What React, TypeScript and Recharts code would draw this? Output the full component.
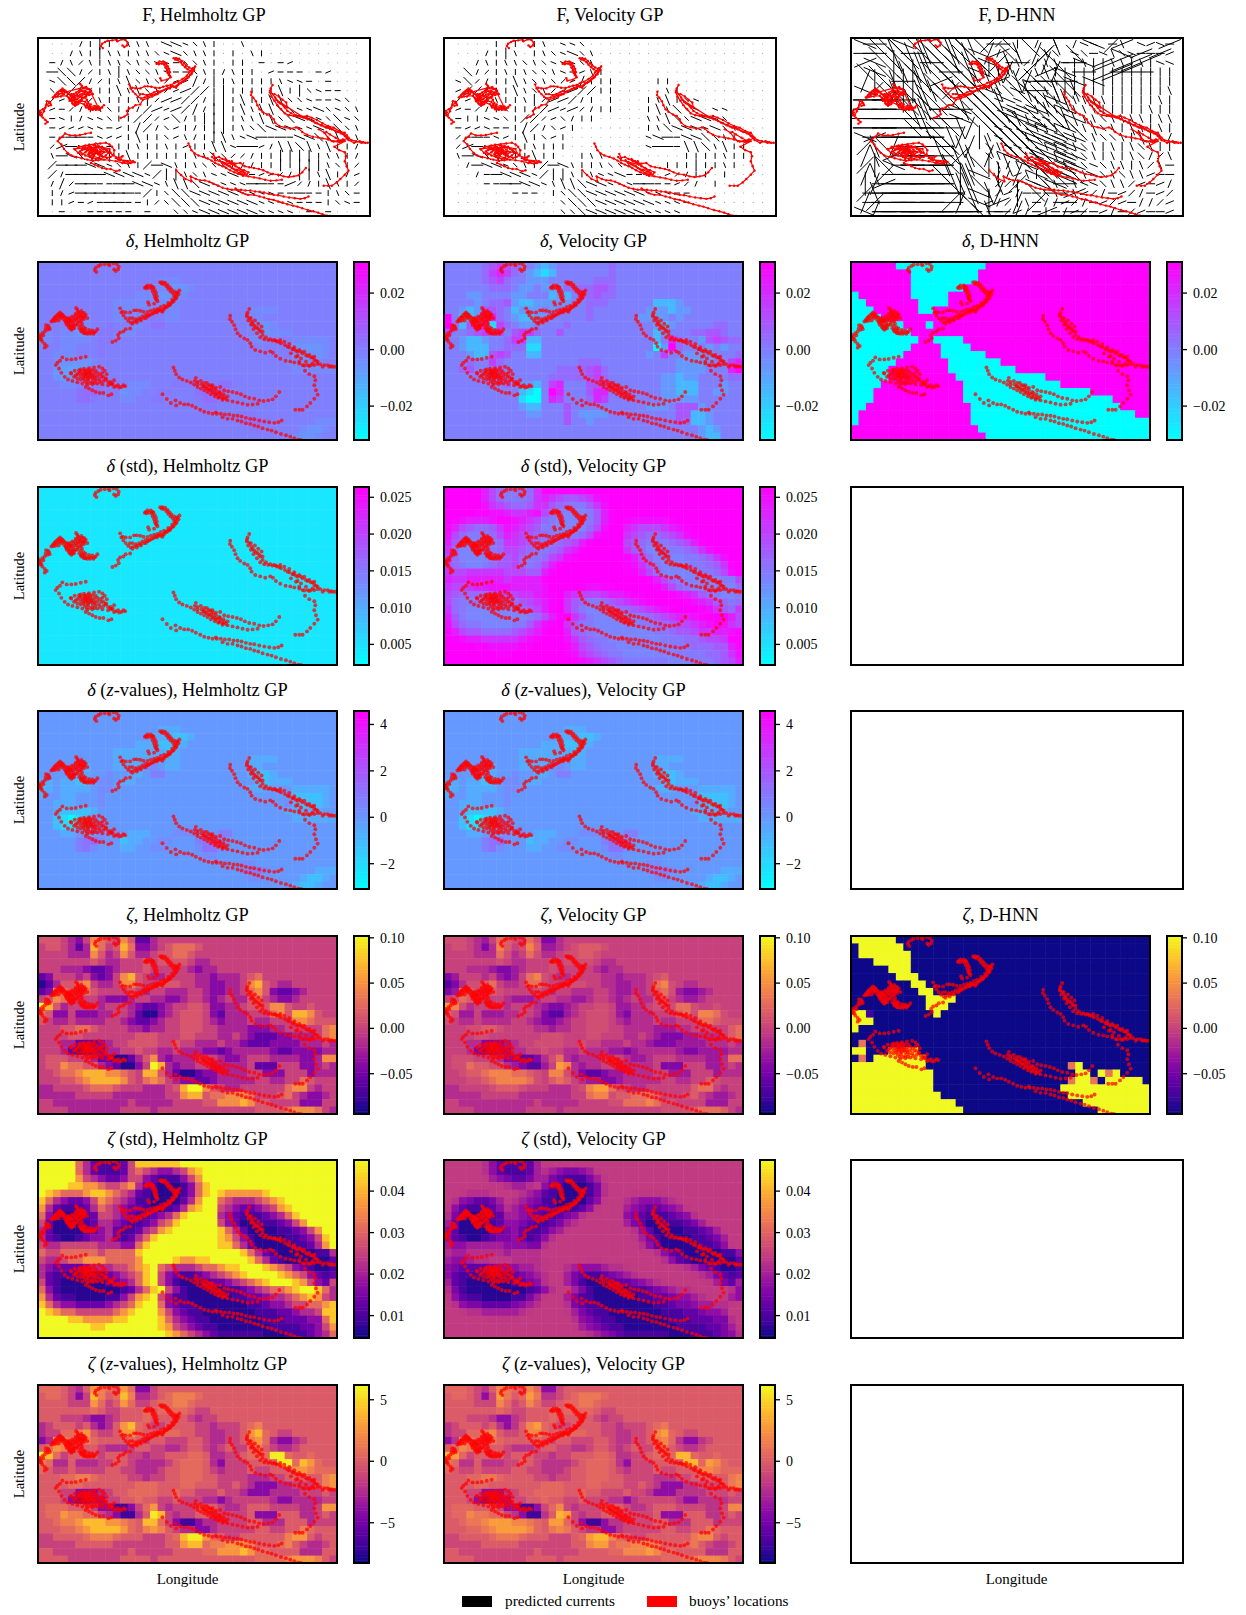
import React from 'react';
import { ScatterChart, Scatter, XAxis, YAxis } from 'recharts';

// ---- buoy tracks (longitude index, latitude index) ----
const T_TOP = [[197,68],[192,62],[195,55],[203,50],[210,46],[222,45],[234,43],[236,48],[248,42],[258,44],[264,52],[262,60],[255,65],[250,60]];
const T_HOOK = [[345,112],[350,108],[360,108],[368,114],[372,122],[376,130],[378,140],[375,148],[380,155],[370,162],[355,165],[352,158]];
const T_HOOK_D = [[348,116],[356,114],[363,118],[366,126],[370,134],[372,142],[378,150],[365,112],[342,115]];
const T_ARC = [[388,98],[395,98],[403,100],[410,106],[416,113],[422,120],[430,126],[438,130],[446,123],[443,134],[438,141],[432,148],[428,155],[420,160],[415,167],[408,172],[400,178],[395,186],[385,180],[378,188],[368,190],[358,195],[350,200],[340,205],[330,208],[320,212],[310,215],[300,218],[292,213],[285,205],[278,197],[272,188],[268,176]];
const T_ARC_IN = [[430,140],[424,150],[412,160],[400,168],[390,172],[380,178],[370,180],[360,183],[350,187],[338,186],[328,183],[318,182],[310,182],[298,188],[285,188],[276,186]];
const T_ARC_D = [[392,102],[399,104],[407,110],[412,118],[419,125],[426,131],[434,136],[440,128],[436,146],[425,157],[418,165],[411,168],[403,173],[396,180],[389,183],[380,184],[373,186],[364,192],[354,197],[345,196],[335,200],[325,205],[315,208],[305,205],[297,205]];
const T_ARC_TAIL = [[345,205],[330,212],[318,218],[305,222],[298,236],[285,238],[278,245],[268,248],[262,255],[264,265],[255,272],[245,276]];
const T_LEFT = [[62,215],[68,208],[75,200],[84,193],[92,193],[100,200],[110,208],[118,205],[125,200],[135,192],[140,180],[136,175],[145,188],[155,190],[165,195],[170,205],[160,208],[148,205],[138,212],[128,220],[118,222],[108,225],[105,215],[115,232],[122,240],[130,235],[140,225],[150,228],[155,238],[160,250],[170,252],[180,248],[190,248],[200,238]];
const T_LEFT_D = [[66,212],[72,204],[80,196],[88,198],[96,195],[104,204],[112,212],[120,212],[128,205],[134,198],[142,196],[150,196],[158,200],[152,212],[142,218],[134,225],[122,230],[112,218],[118,212],[126,228],[146,235],[152,245],[162,242],[175,240],[185,242],[165,250],[195,245]];
const T_LEFT_E = [[70,214],[78,205],[85,203],[92,205],[84,212],[76,212],[100,210],[106,218],[114,226],[122,215],[130,212],[136,206],[142,204],[148,198],[155,204],[162,200],[130,228],[118,236],[126,236],[112,205],[148,215],[154,222],[158,232],[150,240],[164,236],[158,246],[172,246],[178,252],[188,252],[160,190],[152,184],[142,186],[94,200],[88,188]];
const T_FAR_LEFT = [[50,240],[57,238],[52,228],[46,226],[42,245],[35,250],[26,255],[28,268],[35,275],[42,282],[48,288],[42,293]];
const T_FAR_LEFT_D = [[30,260],[24,262],[32,268],[38,256],[45,236],[55,232]];
const T_SW_IN = [[165,320],[150,323],[135,327],[122,328],[108,328],[95,322],[88,332],[80,338],[75,345],[85,355],[92,368],[102,380],[112,388],[125,392],[140,396],[155,400],[170,404],[185,402],[200,400],[215,402],[232,405],[250,410],[265,412],[283,408]];
const T_SWIRL = [[122,370],[132,362],[145,360],[160,356],[175,354],[190,352],[205,350],[215,355],[222,362],[228,372],[226,385],[218,392],[208,395],[195,390],[185,385],[170,375],[160,370],[150,378],[140,385],[130,380],[120,368],[150,365],[165,370],[178,362],[190,370],[200,378],[185,395],[172,390],[158,385],[168,398],[180,378],[160,362],[140,372],[195,362],[208,372],[225,388],[240,395],[250,390],[243,402],[232,395]];
const T_SWIRL_D = [[150,358],[165,362],[170,366],[180,370],[190,378],[175,382],[165,378],[155,372],[145,368],[135,376],[150,388],[162,392],[178,398],[192,398],[205,388],[212,380],[200,368],[185,360],[172,358],[215,368],[218,380],[168,372],[176,368],[182,376],[170,385],[160,380],[192,384]];
const T_SW_TAIL = [[165,410],[175,415],[185,420],[195,425],[207,428],[218,428],[233,435],[242,432]];
const T_TAIL_D = [[245,400],[255,408],[262,405],[272,410],[278,405],[238,400]];
const T_MID_A = [[428,352],[432,362],[436,372],[445,382],[455,388],[468,392],[480,397],[490,403],[500,410],[510,415],[520,420],[530,425],[540,432],[552,438],[562,442],[575,448],[590,450],[605,453],[620,456],[635,460],[650,463],[665,462],[680,460]];
const T_MID_B = [[495,383],[500,395],[510,392],[520,398],[532,405],[542,410],[555,412],[568,410],[580,420],[592,423],[605,425],[618,428],[630,432],[642,438],[655,443],[670,445],[685,450],[698,452],[712,450],[725,447],[735,438],[745,425]];
const T_MID_C = [[520,408],[530,415],[540,420],[550,428],[560,430],[570,436],[580,440],[565,425],[555,420],[545,405]];
const T_MID_D = [[512,402],[518,408],[525,412],[535,418],[545,425],[555,432],[565,440],[575,444],[585,445],[590,438],[578,432],[568,428],[528,398],[538,405],[548,415],[500,402],[492,392]];
const T_LOW_A = [[395,432],[408,446],[420,458],[436,465],[434,450],[448,458],[460,462],[472,462],[484,466],[495,472],[508,478],[520,484],[533,487],[545,490],[558,490],[570,490],[582,492],[595,492],[608,495],[620,496],[632,498],[645,502],[658,505],[670,506],[685,510],[700,513],[715,515],[730,517],[742,515],[752,510]];
const T_LOW_B = [[555,486],[575,500],[590,505],[605,505],[620,510],[632,513],[645,518],[658,520],[670,525],[682,528],[695,533],[710,537],[722,540],[735,545],[750,550],[765,554],[778,558],[790,563],[802,567],[810,568]];
const T_RIGHT_A = [[598,198],[597,208],[603,216],[610,226],[614,238],[620,250],[628,258],[640,266],[650,270],[658,280],[662,290],[673,300],[688,304],[703,308],[718,304],[726,308],[735,318],[748,326],[764,332],[778,334],[790,337],[805,340],[820,346],[835,348],[850,345],[822,362],[835,372],[850,378],[853,390],[850,405],[855,420],[860,433],[850,445],[838,458],[828,468],[815,478],[805,478],[793,478]];
const T_RIGHT_B = [[655,178],[650,188],[648,200],[652,212],[660,225],[668,238],[678,250],[688,262],[700,268],[712,270],[725,272],[738,275],[750,280],[762,285],[775,292],[788,298],[800,305],[815,310],[830,318],[845,322],[855,332],[868,342],[880,345],[895,350],[905,350],[912,350]];
const T_RIGHT_C = [[660,205],[672,212],[682,222],[692,230],[695,245],[685,240],[675,232],[665,222],[735,272],[748,270],[760,275],[775,282],[790,292],[805,300],[820,305],[835,315],[850,320],[860,335],[840,345],[825,335],[810,325],[800,318]];
const T_RIGHT_D = [[648,195],[655,205],[662,215],[670,228],[680,235],[688,245],[695,255],[705,262],[718,268],[730,270],[745,276],[770,290],[785,298],[795,302],[810,305],[825,315],[840,322],[850,330],[860,342],[875,350],[890,345],[900,348]];
const T_CROSS = [[780,310],[795,320],[805,335],[815,345],[830,345],[845,340]];
const TRACKS = [T_TOP,T_HOOK,T_HOOK_D,T_ARC,T_ARC_IN,T_ARC_D,T_ARC_TAIL,T_LEFT,T_LEFT_D,T_LEFT_E,T_FAR_LEFT,T_FAR_LEFT_D,T_SW_IN,T_SWIRL,T_SWIRL_D,T_SW_TAIL,T_TAIL_D,T_MID_A,T_MID_B,T_MID_C,T_MID_D,T_LOW_A,T_LOW_B,T_RIGHT_A,T_RIGHT_B,T_RIGHT_C,T_RIGHT_D,T_CROSS];

// ---- heat fields: one digit per cell, looked up in each panel's level list ----
const ZETA = [
'5554324765475113','4554313864586223456665','4444333753475334556654','44444445433444545555433',
'444333211234445444443233','124443421247854334444332333456','0135567433477544555443322334785433','127654654444543443334432233467521123',
'457644443222344332234432343356432234','9853444434443211234455422334555775445','6522422233443100234555421333444675887544','5433433334432112344555432333433444776555',
'4445566544443323344555443333222334444467','4444554444444555444554443343211122333467','4443311123445555445443334332111222233343','4443100113344544334333221233333211222233',
'4555444311001357323334443223444333322377','4557665532100249832334433333411144422343','4456678887765488531001223333442224442333','4445567888875467643221123333344334465444',
'3344445666544433345899754334444446774344','3333344444333333344788566777644456432234','4433333333334333334444557778755444422244','4444333333344443444444444444455556777643'];
const ZETA_Z = [
...ZETA.slice(0, 5),
'234443421247854334444332333456','2335567433477544555443322334785433',...ZETA.slice(7, 9),
'9853444434443323344455422334555995445','6522422233443222234555421333444499587544','5433433334433222344555432333433444776555',
...ZETA.slice(12)];
const STD = [
'9999964211125888888','9999964211125654334578','99999754322355321113579','99998877655674210001368',
'9876667887654210000136898777778','86432235765431100002479965444567'+'8','74211124654322100124789954322345'+'78','63100012554321123468999943211123'+'468',
'52000012443211235689999953200111'+'2357','42000012342112457899999986420000'+'112357','42100123342124689999999987531000'+'0112358','54455555444336899999999988642000'+'0011247',
'6556666656666899999999999998642100000114','5445667776666799998778899999864210000002','4322223444556789654445667889998765321001','4211100112345689532112345678999987653212',
'5210000001234689531000122345678999875325','6310000000012468953100000112345667899864','7421100001135789531100000011223445678754','8643322223456899632110000000112334556678',
'9876655555678999753211000000011122344588','9999887777889999864321100000001112223368','9999999889999999875432110000000111122357','9999999999999999987654321111110001112346'];
const DELTA_S = [
'4','4','4444444444444444333','444444444444444333223','44444444444443332223','44444444443333333234',
'44444544443333333334444444443333','4444553444333355433444444444334','44443334454433466444444444443223','3343322455433444444444444444422333','2343333455444444444444444444333444333334','3443344454444444444444444444444444222234',
'4433344454444444444444444444444445322234','44322223444444444444444444444444433333','44210124444444444444444444444444443333334','4421122554444444','44433444545433344455544466','44444678544233445544467764','44444675444334455444457754','4444444444444444444444554',
'444444444444444444444444444554','44444444444444444444444444456654444443333','4444444444444444444444444444554444432234','444444444444444444444444444444444432234'];
const DELTA_V = [
'44444567654432344444445','44444578754321244444445','44444567544333444444555','44444455543343335455665','44433444433444232455655','44443455632233333445554444442223',
'44323665423334344445444444433323344','94123785432233444445444444333343444','95267817543344445444444444443234444455','64456766467754464444444444442344455665','4432234457722444444444444444248544367655','4432224455511444444444444444039544434344',
'4443226764422444444444444443474433334445','4445447544444444445554444444444333334478','4456445544444445555675444444444333344489','4444445544444455555675444444433233444455','4444444454332478444666544444433222444344','4444444444210498444688444444433222443344','4444444444100487444587444444433333444444','4444444444322444644444444443334666344444',
'4444444444433444643333444444444662234444','4444444444444444644344444444444652234444','4444444444444444444444444444444444323444','4444444444444444444444444444444444322444'];
const DHNN_DELTA = [
'999999000000000000','99999999000000000','99999999000000000','999999990000000',
'0999999900000','0099999990000','00099999900','0000999999',
'000000099909','00000000999','00000000099000099','000000009999000099','0000000999990000009','0000009999999000000099','0000099999999000000000999','00000999999999000000000000999',
'0000999999999990000000000000999','0009999999999990000000000000000099','00099999999999900000000000000000000999','0099999999999999000000000000000000009999',
'0999999999999999000000000000000000000099','0999999999999999000000000000000000000000','9999999999999999900000000000000000000000','9999999999999999990000000000000000000000'];
const DHNN_ZETA = [
'999999','0999999','09999999','00099999','00000999','000000999','0000000099','00000000099',
'00000000009999','0000000000999','991000000009','999','9','','07','9900099990',
'0709999999','99999999990000000000000000000790','9999999999900000000000000000009909'+'79','999999999990000000000000000007997'+'099999',
'9999999999900000000000000000999999999999','9999999999990000000000000000099999999999','9999999999999900000000000000000999999999','9999999999999990000000000000000009999999'];

// ---- current vectors: a-h orientation, lower case short, upper case long, dot = calm ----
const QUIVER_H = [
'...deEe.fff.HHhgfe..f','..dfeEffeffghHgffe.e.fe','adfcfeffgfghhaggfe.ee.a.ab','AGGdcefEfggfhaagfedfee.baaa.ab',
'hGGCdcefFgfgcbbDdEefeeeefhha.a','gbCCdeeFfFgfcbBCCeEeeeeeFeEghaa','cbbdcfeeefEcBBCCdEEeFeeFFgghaahg','bacdefgeedCBbBCDdEEeFfFFGGhhHghgf',
'ahedhhgeeCCcbGdeEEEeffFFgGHHhgGhg','abbbhhabeDCdgbedeEEefgGHHHhhHgGgf','aaAAahbbeFeegbfdeEFfhHAaAaHHGGFef','cBAhfGaeefeefebeeFFhAAbdFFGFfFeed',
'fAHGgeEeFeeeeeeffGgccdeeEEEEeffed','CAAAHHhgfeCAHfefgggdddeeEeEEEfgec','CdAAAAHHHHhCEEfgfhhHaabbcdEEfFedb','dDcAAaaAAHHhfFFGHHhhhAAaaBcdeFfec',
'edbAAAAAAaCegGGHHHHHHhhhaaAaaefga','eebabaAAaaecgGGGHHHHHHhhhhaaaegha','.a..aaaaa.a..gghHHHHHHhhhh.a.a'];
const QUIVER_V = [
'....e.e.ef.hhg','...deEf.efghHgf','..dfeffgfghhhgf','.Gdcefefggfhabfe','hGcdeeFfgfgcbDeee....ee','bCCdeeFfgfcbBCCee.....fe',
'cbdefeefEcBBCde.e...efFegh','bacdegeedCBbBcdee...eFfGgh.hh','aeehhgeCCcbgdee.....ffFGgHHhg','abbhaaeDCdgbe.......efGHHHhHgf','caAahbeFegbe........hHAaHHGGfe','cBAhgg.efeee........hAAaFFGfFee',
'fAHGgeeeFee..eff........eeeefee','.dAHHhgfeCAHfeefggg...eeeEeefe','..daAHHHhCEEfefhhHaab.bcdee.e','...aaAAHHhfFFGHHhhhAAaabcd.e','......aaa.egGGHHHHHHhhhaa','...........gGGGHHHHHHhhha','...........ggGHHHHHHhhhh'];
const QUIVER_D_LONG = [
'hagGhGFgGFgfgcag.g..f...h.cb....b','aaGFGaFGgFgGhdbgf.dc..g....h.b.b','bhGgGFfaGgGFghcfa.CdG.ah.bB.BB','ghgEfgFgGaGFhgfd.c.bdh.a..BBA','deGfaEGgbGgGgfb.fdaaAGh.h','hcgfEGFfgcGgghf.gfaGfgf',
'aAaAGgFGgGFgGGf..gGGhf','aAaaGFfGaAhgGGG.hhhGgh','AaaAaaFgaahg.GGGHHgggfh','aAaAAgaaAgfd.GGGGGhhghg','hbAAAAAaGfd.e.GGGGHHhhh','cfgdaaaAGgfd.f.GGGGHhhh',
'dfgbaaaAFgcf.d.hGGGHHhh','ceghaaAAagFfge.f.hgGHhh','dfcaaAAAgFefh.e.d.hgHhg','edbAAAAAaGfFg.f.c.hgha','cfAAAAAaAaeFhfd.e.g.a.b','dcAAaAAaAcdgheb.d.c..a','hdaAAaAAaAAagfa.d..b..a'];
const QUIVER_D_SHORT = [
'..............c.e.d.f.dhh.af.hbhag','..............d.f.gfg.hgahfghaaabha','.............e.ffcdffaefeeffefehh','.............eefdgfFeeeeeeeeeeeee','..............fgGhgGfeeeeeeeeeeee','..............gGHggfFeeeeeeeeeeef',
'..............hHhgfFffffffeeeeefe','...............HhgfFfgfffeeeeefee','..............gfFfhhgfFffgffffeff','..............hhggfffhgfFgfeFfefe','.............fhggfhhhgfgfggfeFefd','.............gfhhggffgfgfefefgfee',
'.............gfhgfHgfHggfefefgdcf','..............fdfgfhgfhghgffefcfa','..............ddbfegfhgfHgfgffbaa','..............ccdhhgfgfhhgffcbabd','.............ecbdaagfgfbcdabcdabc','.............bdcefaddbcdabcbaddcb','..............acbdaeadbcabdacbaab'];

// ---- colour bars and panels ----
const COOL = 'cool';
const PLASMA = 'plasma';
const RANGE_DELTA = [-0.032, 0.031];
const RANGE_DSTD = [0.0022, 0.0264];
const RANGE_DZ = [-3.09, 4.58];
const RANGE_ZETA = [-0.0945, 0.102];
const RANGE_ZSTD = [0.0046, 0.0475];
const RANGE_ZZ = [-8.27, 6.2];
const TICKS_DELTA = [-0.02, 0, 0.02];
const TICKS_DSTD = [0.005, 0.01, 0.015, 0.02, 0.025];
const TICKS_DZ = [-2, 0, 2, 4];
const TICKS_ZETA = [-0.05, 0, 0.05, 0.1];
const TICKS_ZSTD = [0.01, 0.02, 0.03, 0.04];
const TICKS_ZZ = [-5, 0, 5];
const L_DH = [-0.0093,-0.0074,-0.0055,-0.003,-0.0005,0.0008,0.0027,0.0039,0.0045,0.0058];
const L_DV = [-0.032,-0.0232,-0.0144,-0.0068,-0.0005,0.0045,0.0096,0.0153,0.0216,0.031];
const L_DD = [-0.032,-0.025,-0.018,-0.011,-0.004,0.003,0.01,0.017,0.024,0.031];
const L_DSH = [0.0044,0.0044,0.0044,0.0045,0.0045,0.0045,0.0046,0.0046,0.0046,0.0046];
const L_DSV = [0.0138,0.0148,0.0162,0.0179,0.0196,0.0216,0.0235,0.0249,0.0259,0.0264];
const L_DZ = [-2.94,-1.94,-1.17,-0.56,-0.02,0.36,0.75,1.13,1.51,1.9];
const L_ZH = [-0.0847,-0.0591,-0.0395,-0.0198,-0.0002,0.0136,0.0293,0.0470,0.0686,0.102];
const L_ZV = [-0.0631,-0.0434,-0.0277,-0.014,-0.0002,0.0077,0.0175,0.0293,0.0431,0.0588];
const L_ZD = [-0.0945,-0.075,-0.05,-0.03,-0.01,0.01,0.02,0.0332,0.08,0.102];
const L_ZSH = [0.0068,0.0097,0.0132,0.0175,0.0218,0.0261,0.0312,0.0368,0.0424,0.0475];
const L_ZSV = [0.0067,0.0097,0.0123,0.0153,0.0175,0.02,0.0226,0.0239,0.0243,0.0243];
const L_ZZH = [-6.82,-4.22,-2.48,-1.32,-0.02,0.7,1.57,2.58,4.03,5.77];
const L_ZZV = [-6.82,-3.93,-2.05,-1.03,-0.02,0.56,1.28,2.0,2.87,3.88];

const ROW_TOPS = [37.5, 262, 486.5, 711, 935.5, 1160, 1384.5];
const COL_LEFTS = [38, 444, 851];
const H = 178, W_HEAT = 299, W_WIDE = 332, BAR_OFFSET = 316, BAR_W = 15, BAR_PAD = 10;
const SERIF = '"Liberation Serif", "Times New Roman", serif';

const ANGLES: Record<string, number> = { a: 0, b: 22.5, c: 45, d: 67.5, e: 90, f: 112.5, g: 135, h: 157.5 };
const PLASMA_STOPS = ['#0d0887','#41049d','#6a00a8','#8f0da4','#b12a90','#cc4778','#e16462','#f2844b','#fca636','#fcce25','#f0f921'];
const hex = (s: string) => [1, 3, 5].map((i) => parseInt(s.slice(i, i + 2), 16));
function colorOf(map: string, t0: number) {
  const t = Math.max(0, Math.min(1, t0));
  if (map === COOL) return `rgb(${Math.round(255 * t)},${Math.round(255 * (1 - t))},255)`;
  const p = t * 10, i = Math.min(9, Math.floor(p)), f = p - i;
  const a = hex(PLASMA_STOPS[i]), b = hex(PLASMA_STOPS[i + 1]);
  return `rgb(${a.map((v, k) => Math.round(v + (b[k] - v) * f)).join(',')})`;
}

function heatCells(grid: string[], pad: string, levels: number[], map: string, range: number[]) {
  const out: any[] = [];
  grid.forEach((row, r) => {
    for (let c = 0; c < 40; c++) {
      const ch = row[c] ?? pad;
      const v = levels[Number(ch)];
      out.push({ x: c + 0.5, y: r + 0.5, fill: colorOf(map, (v - range[0]) / (range[1] - range[0])) });
    }
  });
  return out;
}
function quiverPoints(grid: string[], short: number, long: number, keepDots: boolean) {
  const out: any[] = [];
  grid.forEach((row, r) => {
    for (let c = 0; c < 33; c++) {
      const ch = row[c] ?? '.';
      if (ch === '.') { if (keepDots) out.push({ x: c, y: r, u: 0, v: 0 }); continue; }
      const low = ch.toLowerCase();
      const len = ch === low ? short : long;
      const a = (ANGLES[low] * Math.PI) / 180;
      out.push({ x: c, y: r, u: len * Math.cos(a), v: len * Math.sin(a) });
    }
  });
  return out;
}
const trackPoints = TRACKS.map((t) => t.map(([x, y]) => ({ x, y })));
const allDots = trackPoints.flat();

const NoMark = () => <g />;
const QuiverMark = (p: any) => {
  const { cx, cy, payload: d } = p;
  if (d.u === 0 && d.v === 0) return <circle cx={cx} cy={cy} r={0.55} fill="#999" />;
  return <line x1={cx - d.u / 2} y1={cy + d.v / 2} x2={cx + d.u / 2} y2={cy - d.v / 2} stroke="#000" strokeWidth={1} />;
};
const DotMark = (p: any) => <circle cx={p.cx} cy={p.cy} r={1.95} fill="#f00" fillOpacity={0.72} />;
const ThinDot = (p: any) => <circle cx={p.cx} cy={p.cy} r={1.2} fill="#f00" />;

const Frame = ({ x, y, w, h }: any) => (
  <div style={{ position: 'absolute', left: x - 1, top: y - 1, width: w + 2, height: h + 2, border: '2px solid #000', boxSizing: 'border-box', pointerEvents: 'none' }} />
);

function HeatPanel({ left, top, cells }: any) {
  const cw = W_HEAT / 40, ch = H / 24;
  const Cell = (p: any) => <rect x={p.cx - cw / 2} y={p.cy - ch / 2} width={cw + 0.5} height={ch + 0.5} fill={p.payload.fill} />;
  return (
    <div style={{ position: 'absolute', left, top }}>
      <ScatterChart width={W_HEAT} height={H} margin={{ top: 0, right: 0, bottom: 0, left: 0 }}>
        <XAxis xAxisId="g" type="number" dataKey="x" domain={[0, 40]} hide allowDataOverflow />
        <YAxis yAxisId="g" type="number" dataKey="y" domain={[0, 24]} reversed hide allowDataOverflow />
        <XAxis xAxisId="t" type="number" dataKey="x" domain={[22, 918]} hide allowDataOverflow />
        <YAxis yAxisId="t" type="number" dataKey="y" domain={[38, 568]} reversed hide allowDataOverflow />
        <Scatter xAxisId="g" yAxisId="g" data={cells} shape={Cell} isAnimationActive={false} />
        <Scatter xAxisId="t" yAxisId="t" data={allDots} shape={DotMark} isAnimationActive={false} />
      </ScatterChart>
    </div>
  );
}

function QuiverPanel({ left, top, layers }: any) {
  return (
    <div style={{ position: 'absolute', left, top }}>
      <ScatterChart width={W_WIDE} height={H} margin={{ top: 0, right: 0, bottom: 0, left: 0 }}>
        <XAxis xAxisId="g" type="number" dataKey="x" domain={[-1.5, 33.4]} hide allowDataOverflow />
        <YAxis yAxisId="g" type="number" dataKey="y" domain={[-0.65, 18.46]} reversed hide allowDataOverflow />
        <XAxis xAxisId="t" type="number" dataKey="x" domain={[22, 918]} hide allowDataOverflow />
        <YAxis yAxisId="t" type="number" dataKey="y" domain={[38, 568]} reversed hide allowDataOverflow />
        {layers.map((l: any[], i: number) => (
          <Scatter key={i} xAxisId="g" yAxisId="g" data={l} shape={QuiverMark} isAnimationActive={false} />
        ))}
        {trackPoints.map((t, i) => (
          <Scatter key={'t' + i} xAxisId="t" yAxisId="t" data={t} shape={NoMark} line={{ stroke: '#f00', strokeWidth: 1.2 }} isAnimationActive={false} />
        ))}
        <Scatter xAxisId="t" yAxisId="t" data={allDots} shape={ThinDot} isAnimationActive={false} />
      </ScatterChart>
    </div>
  );
}

const fmt = (dec: number) => (v: number) => {
  const s = Math.abs(v).toFixed(dec);
  return v < 0 ? '\u2212' + s : s;
};
function ColorBar({ left, top, map, range, ticks, dec }: any) {
  const stops: any[] = [];
  const n = 64;
  for (let i = 0; i < n; i++) {
    const t = (i + 0.5) / n;
    stops.push({ x: 0.5, y: range[0] + t * (range[1] - range[0]), fill: colorOf(map, t) });
  }
  const sh = H / n;
  const Stop = (p: any) => <rect x={p.cx - BAR_W / 2} y={p.cy - sh / 2} width={BAR_W} height={sh + 0.5} fill={p.payload.fill} />;
  return (
    <div style={{ position: 'absolute', left, top: top - BAR_PAD }}>
      <ScatterChart width={BAR_W + 52} height={H + 2 * BAR_PAD} margin={{ top: BAR_PAD, right: 0, bottom: BAR_PAD, left: 0 }}>
        <XAxis type="number" dataKey="x" domain={[0, 1]} hide allowDataOverflow />
        <YAxis
          type="number" dataKey="y" orientation="right" width={52} domain={range} ticks={ticks} interval={0} allowDataOverflow
          axisLine={false} tickLine={{ stroke: '#000', strokeWidth: 1.3 }} tickSize={5} tickMargin={6}
          tick={{ fill: '#000', fontSize: 14, fontFamily: SERIF }} tickFormatter={fmt(dec)}
        />
        <Scatter data={stops} shape={Stop} isAnimationActive={false} />
      </ScatterChart>
      <Frame x={0} y={BAR_PAD} w={BAR_W} h={H} />
    </div>
  );
}

const Title = ({ sym, extra, model, cx, top }: any) => (
  <div style={{ position: 'absolute', left: cx - 200, width: 400, top: top - 31, textAlign: 'center', fontFamily: SERIF, fontSize: 18.4, lineHeight: '20px', color: '#000', whiteSpace: 'pre' }}>
    {sym === 'F' ? 'F' : <i>{sym}</i>}
    {extra === 'std' ? ' (std)' : null}
    {extra === 'z' ? <span> (<i>z</i>-values)</span> : null}
    {', ' + model}
  </div>
);

const HELM = 'Helmholtz GP', VEL = 'Velocity GP', DHNN = 'D-HNN';
const HEAT_ROWS = [
  { sym: '\u03b4', extra: '', map: COOL, range: RANGE_DELTA, ticks: TICKS_DELTA, dec: 2, cols: [[DELTA_S, '4', L_DH], [DELTA_V, '4', L_DV], [DHNN_DELTA, '9', L_DD]] },
  { sym: '\u03b4', extra: 'std', map: COOL, range: RANGE_DSTD, ticks: TICKS_DSTD, dec: 3, cols: [[STD, '9', L_DSH], [STD, '9', L_DSV]] },
  { sym: '\u03b4', extra: 'z', map: COOL, range: RANGE_DZ, ticks: TICKS_DZ, dec: 0, cols: [[DELTA_S, '4', L_DZ], [DELTA_S, '4', L_DZ]] },
  { sym: '\u03b6', extra: '', map: PLASMA, range: RANGE_ZETA, ticks: TICKS_ZETA, dec: 2, cols: [[ZETA, '4', L_ZH], [ZETA, '4', L_ZV], [DHNN_ZETA, '0', L_ZD]] },
  { sym: '\u03b6', extra: 'std', map: PLASMA, range: RANGE_ZSTD, ticks: TICKS_ZSTD, dec: 2, cols: [[STD, '9', L_ZSH], [STD, '9', L_ZSV]] },
  { sym: '\u03b6', extra: 'z', map: PLASMA, range: RANGE_ZZ, ticks: TICKS_ZZ, dec: 0, cols: [[ZETA_Z, '4', L_ZZH], [ZETA_Z, '4', L_ZZV]] },
];
const MODELS = [HELM, VEL, DHNN];
const QUIVER_LAYERS = [
  [quiverPoints(QUIVER_H, 6, 12, true)],
  [quiverPoints(QUIVER_V, 6, 12, true)],
  [quiverPoints(QUIVER_D_SHORT, 9, 16, false), quiverPoints(QUIVER_D_LONG, 24, 44, false)],
];

export default function App() {
  return (
    <div style={{ position: 'absolute', left: 0, top: 0, width: 1246, height: 1615, background: '#fff', overflow: 'hidden' }}>
      {COL_LEFTS.map((x, c) => (
        <React.Fragment key={c}>
          <QuiverPanel left={x} top={ROW_TOPS[0]} layers={QUIVER_LAYERS[c]} />
          <Frame x={x} y={ROW_TOPS[0]} w={W_WIDE} h={H} />
          <Title sym="F" extra="" model={MODELS[c]} cx={x + W_WIDE / 2} top={ROW_TOPS[0] - 1.5} />
        </React.Fragment>
      ))}
      {HEAT_ROWS.map((row, r) => {
        const top = ROW_TOPS[r + 1];
        return (
          <React.Fragment key={r}>
            {COL_LEFTS.map((x, c) => {
              const def: any = row.cols[c];
              if (!def) return <Frame key={c} x={x} y={top} w={W_WIDE} h={H} />;
              return (
                <React.Fragment key={c}>
                  <HeatPanel left={x} top={top} cells={heatCells(def[0], def[1], def[2], row.map, row.range)} />
                  <Frame x={x} y={top} w={W_HEAT} h={H} />
                  <ColorBar left={x + BAR_OFFSET} top={top} map={row.map} range={row.range} ticks={row.ticks} dec={row.dec} />
                  <Title sym={row.sym} extra={row.extra} model={MODELS[c]} cx={x + W_HEAT / 2} top={top} />
                </React.Fragment>
              );
            })}
          </React.Fragment>
        );
      })}
      {ROW_TOPS.map((t) => (
        <div key={t} style={{ position: 'absolute', left: 18.5 - 40, top: t + H / 2 - 9, width: 80, height: 18, lineHeight: '18px', textAlign: 'center', transform: 'rotate(-90deg)', fontFamily: SERIF, fontSize: 14.5 }}>Latitude</div>
      ))}
      {[187.5, 593.5, 1016.5].map((cx) => (
        <div key={cx} style={{ position: 'absolute', left: cx - 60, top: 1570, width: 120, textAlign: 'center', lineHeight: '18px', fontFamily: SERIF, fontSize: 15 }}>Longitude</div>
      ))}
      <div style={{ position: 'absolute', left: 462, top: 1596, width: 30, height: 11, background: '#000' }} />
      <div style={{ position: 'absolute', left: 505, top: 1592, lineHeight: '18px', fontFamily: SERIF, fontSize: 15.3, whiteSpace: 'pre' }}>predicted currents</div>
      <div style={{ position: 'absolute', left: 647, top: 1596, width: 30, height: 11, background: '#f00' }} />
      <div style={{ position: 'absolute', left: 689, top: 1592, lineHeight: '18px', fontFamily: SERIF, fontSize: 15.3, whiteSpace: 'pre' }}>buoys{'\u2019'} locations</div>
    </div>
  );
}
